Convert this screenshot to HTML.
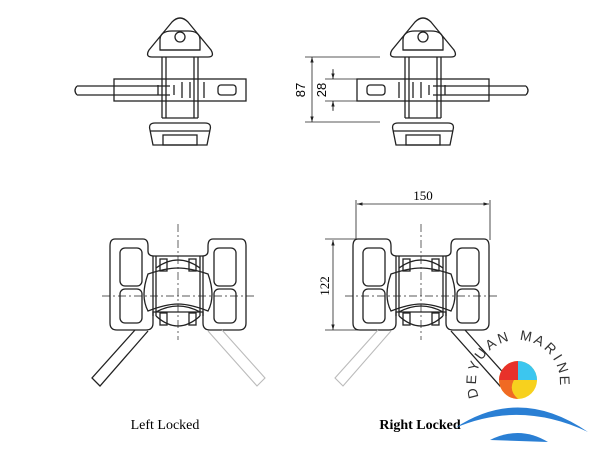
<!DOCTYPE html>
<html><head><style>html,body{margin:0;padding:0;background:#fff}svg{display:block}</style></head>
<body>
<svg width="600" height="450" viewBox="0 0 600 450" xmlns="http://www.w3.org/2000/svg" font-family="Liberation Serif, serif">
<defs>
<marker id="ar" viewBox="0 0 10 10" refX="10" refY="5" markerWidth="7" markerHeight="7" orient="auto-start-reverse"><path d="M0,2 L10,5 L0,8Z" fill="#222"/></marker>
<g id="top" fill="none" stroke="#222" stroke-width="1.3">
  <path d="M-31,50 L-8,22 Q0,14 8,22 L31,50 Q35,57 28,57 L-28,57 Q-35,57 -31,50Z"/>
  <path d="M-20,50 L-20,40 Q-20,31 -8,31 L8,31 Q20,31 20,40 L20,50Z"/>
  <circle cx="0" cy="37" r="5"/>
  <line x1="-20" y1="50" x2="20" y2="50"/>
  <path d="M-18,57 L-18,118 M18,57 L18,118 M-14,57 L-14,118 M14,57 L14,118"/>
  <rect x="-66" y="79" width="132" height="22"/>
  <rect x="38" y="85" width="18" height="10" rx="3"/>
  <path d="M-22,85 L-22,95 M-6,85 L-6,95 M2,82 L2,98 M10,82 L10,98 M24,82 L24,98"/>
  <path d="M-25,123 L25,123 Q32,123 30,130 L27,145 L-27,145 L-30,130 Q-32,123 -25,123Z"/>
  <line x1="-30" y1="131" x2="30" y2="131"/>
  <rect x="-17" y="135" width="34" height="10"/>
  <path d="M-18,118 L18,118"/>
  <path d="M-103,86 L-10,86 M-103,95 L-10,95 M-103,86 Q-107,90.5 -103,95" />
</g>
<g id="bot" fill="none" stroke="#222" stroke-width="1.3">
  <path d="M-63,-57 L-35,-57 Q-30,-57 -30,-50 L-30,-45 Q-30,-40 -24,-40 L24,-40 Q30,-40 30,-45 L30,-50 Q30,-57 35,-57 L63,-57 Q68,-57 68,-50 L68,27 Q68,34 61,34 L32,34 Q25,34 25,27 L25,16 L-25,16 L-25,27 Q-25,34 -32,34 L-61,34 Q-68,34 -68,27 L-68,-50 Q-68,-57 -63,-57Z"/>
  <rect x="-58" y="-48" width="22" height="38" rx="5"/>
  <rect x="-58" y="-7" width="22" height="34" rx="5"/>
  <rect x="36" y="-48" width="22" height="38" rx="5"/>
  <rect x="36" y="-7" width="22" height="34" rx="5"/>
  <path d="M-25,-40 L-25,20 M25,-40 L25,20 M-22,-40 L-22,20 M22,-40 L22,20"/>
  <path d="M-30,-22 Q-12,-28 0,-28 Q12,-28 30,-22 Q38,0 30,15 Q12,8 0,8 Q-12,8 -30,15 Q-38,0 -30,-22Z"/>
  <path d="M-22,-28 Q0,-44 22,-28"/>
  <path d="M-22,16 Q0,4 22,16"/>
  <path d="M-22,20 Q0,40 22,20"/>
  <rect x="-18" y="-37" width="7" height="12"/><rect x="11" y="-37" width="7" height="12"/>
  <rect x="-18" y="17" width="7" height="12"/><rect x="11" y="17" width="7" height="12"/>
  <path d="M0,-72 L0,44" stroke-width="0.7" stroke-dasharray="8,3,2,3"/>
  <path d="M-76,0 L78,0" stroke-width="0.7" stroke-dasharray="8,3,2,3"/>
</g>
</defs>
<use href="#top" x="180" y="0"/>
<use href="#top" transform="translate(423,0) scale(-1,1)"/>
<g stroke="#222" stroke-width="0.8" fill="none">
  <path d="M305,57 L380,57 M305,122 L380,122 M325,79 L360,79 M325,101 L360,101"/>
  <path d="M312,57 L312,122" marker-start="url(#ar)" marker-end="url(#ar)"/>
  <path d="M333,69 L333,79 M333,101 L333,111"/>
  <path d="M333,70 L333,79" marker-end="url(#ar)"/>
  <path d="M333,110 L333,101" marker-end="url(#ar)"/>
</g>
<text x="305" y="90" font-size="13" font-family="Liberation Sans, sans-serif" transform="rotate(-90 305 90)" text-anchor="middle">87</text>
<text x="326" y="90" font-size="13" font-family="Liberation Sans, sans-serif" transform="rotate(-90 326 90)" text-anchor="middle">28</text>
<use href="#bot" x="178" y="296"/>
<path d="M135,330 L92,378 L100,386 L148,331" fill="none" stroke="#222" stroke-width="1.3"/>
<path d="M208,331 L257,386 L265,378 L222,330" fill="none" stroke="#bbb" stroke-width="1.1"/>
<use href="#bot" x="421" y="296"/>
<path d="M378,330 L335,378 L343,386 L391,331" fill="none" stroke="#bbb" stroke-width="1.1"/>
<path d="M451,331 L500,386 L508,378 L465,330" fill="none" stroke="#222" stroke-width="1.3"/>
<g stroke="#222" stroke-width="0.8" fill="none">
  <path d="M356,200 L356,240 M490,200 L490,240"/>
  <path d="M357,204 L489,204" marker-start="url(#ar)" marker-end="url(#ar)"/>
  <path d="M325,239 L356,239 M325,330 L360,330"/>
  <path d="M333,240 L333,330" marker-start="url(#ar)" marker-end="url(#ar)"/>
</g>
<text x="423" y="200" font-size="13" text-anchor="middle">150</text>
<text x="329" y="286" font-size="13" transform="rotate(-90 329 286)" text-anchor="middle">122</text>
<text x="165" y="429" font-size="14" text-anchor="middle">Left Locked</text>
<text x="420" y="429" font-size="14" font-weight="bold" text-anchor="middle">Right Locked</text>
<!-- logo -->
<path d="M455,428 Q520,385 588,432 Q520,400 455,428Z" fill="#2a7fd4"/>
<path d="M490,440 Q520,425 548,442 Z" fill="#2a7fd4"/>
<circle cx="518" cy="380" r="19" fill="#f7d11e"/>
<path d="M518,361 A19,19 0 0 1 537,380 L518,380Z" fill="#3cc6ef"/>
<path d="M499,380 A19,19 0 0 1 518,361 L518,380Z" fill="#e8312a"/>
<path d="M499,380 A19,19 0 0 0 518,399 Q508,390 514,380Z" fill="#f06a23"/>
<g font-family="Liberation Sans, sans-serif" font-size="14" fill="#333" text-anchor="middle">
<text x="518" y="340" transform="rotate(-104 518 382)">D</text>
<text x="518" y="340" transform="rotate(-87 518 382)">E</text>
<text x="518" y="340" transform="rotate(-70 518 382)">Y</text>
<text x="518" y="340" transform="rotate(-53 518 382)">U</text>
<text x="518" y="340" transform="rotate(-36 518 382)">A</text>
<text x="518" y="340" transform="rotate(-19 518 382)">N</text>
<text x="518" y="340" transform="rotate(10 518 382)">M</text>
<text x="518" y="340" transform="rotate(27 518 382)">A</text>
<text x="518" y="340" transform="rotate(44 518 382)">R</text>
<text x="518" y="340" transform="rotate(58 518 382)">I</text>
<text x="518" y="340" transform="rotate(72 518 382)">N</text>
<text x="518" y="340" transform="rotate(88 518 382)">E</text>
</g>
</svg>
</body></html>
